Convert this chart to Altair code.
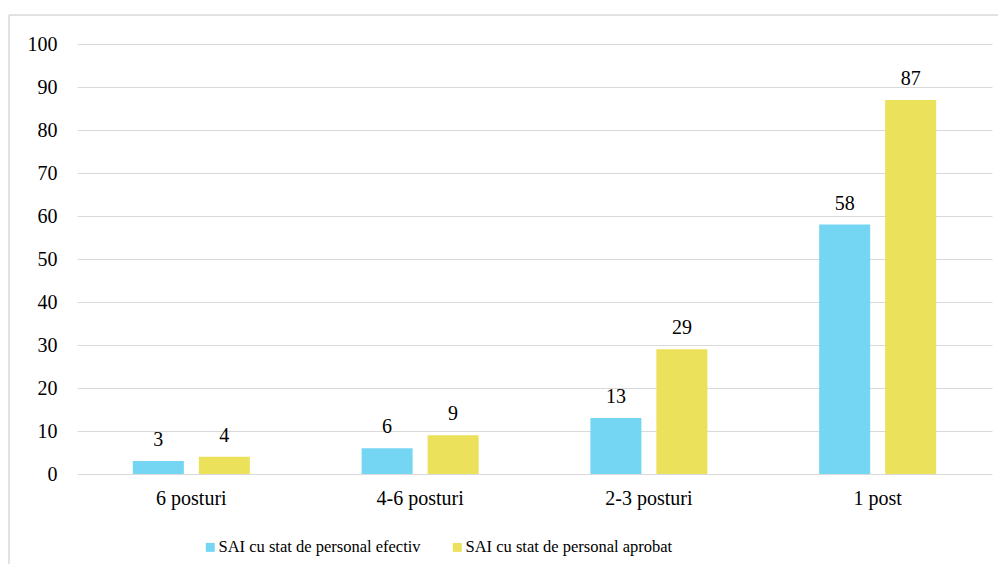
import altair as alt
import pandas as pd

categories = ["6 posturi", "4-6 posturi", "2-3 posturi", "1 post"]
series = ["SAI cu stat de personal efectiv", "SAI  cu stat de personal aprobat"]
efectiv = [3, 6, 13, 58]
aprobat = [4, 9, 29, 87]
colors = ["#74D6F3", "#ECE15B"]
y_ticks = [0, 10, 20, 30, 40, 50, 60, 70, 80, 90, 100]

rows = []
for c, v in zip(categories, efectiv):
    rows.append({"cat": c, "series": series[0], "value": v})
for c, v in zip(categories, aprobat):
    rows.append({"cat": c, "series": series[1], "value": v})
df = pd.DataFrame(rows)

FONT = "Liberation Serif"
GRID = "#d9d9d9"

x_enc = alt.X(
    "cat:N", sort=categories,
    scale=alt.Scale(paddingInner=0.4885, paddingOuter=0.244),
    axis=alt.Axis(title=None, labelAngle=0, labelFont=FONT, labelFontSize=20,
                  labelColor="#000000", ticks=False, domain=False, labelPadding=14),
)
xo_enc = alt.XOffset("series:N", sort=series,
                     scale=alt.Scale(paddingInner=0.227, paddingOuter=0))
y_enc = alt.Y(
    "value:Q",
    scale=alt.Scale(domain=[0, 100], nice=False),
    axis=alt.Axis(title=None, values=y_ticks, labelFont=FONT, labelFontSize=20,
                  labelColor="#000000", ticks=False, domain=False, labelPadding=20,
                  gridColor=GRID, gridWidth=1),
)

bars = alt.Chart(df).mark_bar().encode(
    x=x_enc, xOffset=xo_enc, y=y_enc,
    color=alt.Color(
        "series:N", sort=series,
        scale=alt.Scale(domain=series, range=colors),
        legend=alt.Legend(title=None, orient="none", legendX=125, legendY=495,
                          direction="horizontal", symbolType="square", symbolSize=80,
                          symbolStrokeWidth=0, labelFont=FONT, labelFontSize=16.5,
                          labelColor="#000000", labelOffset=0, columnPadding=28,
                          labelLimit=1000, padding=0),
    ),
)

labels = alt.Chart(df).mark_text(
    font=FONT, fontSize=20, color="#000000", baseline="alphabetic", dy=-15
).encode(x=x_enc, xOffset=xo_enc, y=y_enc, text="value:Q")

frame = pd.DataFrame({"a": [0]})
top_line = alt.Chart(frame).mark_rule(color=GRID, strokeWidth=1.5).encode(
    x=alt.value(-68), x2=alt.value(1000), y=alt.value(-29))
left_line = alt.Chart(frame).mark_rule(color=GRID, strokeWidth=1.5).encode(
    x=alt.value(-68), y=alt.value(-29), y2=alt.value(600))

chart = alt.layer(top_line, left_line, bars, labels).properties(
    width=915, height=430,
    padding={"left": 69, "top": 36, "right": 6, "bottom": 90},
    autosize=alt.AutoSizeParams(type="none"),
    background="white",
).configure_view(stroke=None)

chart.save("out.html", embed_options={"renderer": "svg", "actions": False})
